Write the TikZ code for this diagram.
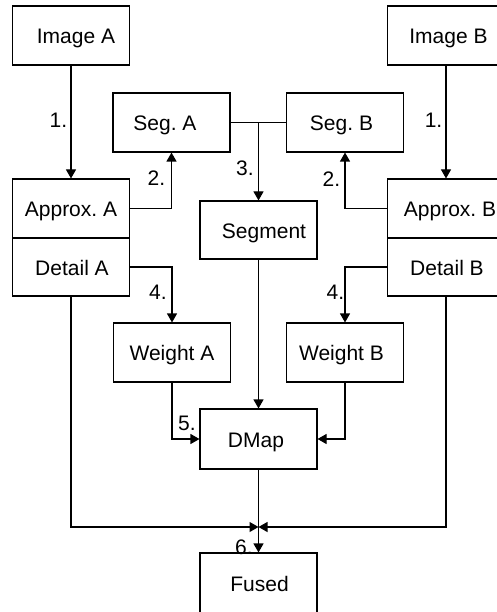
\documentclass[tikz,border=0pt]{standalone}
\usepackage{fontspec}
\setmainfont{Liberation Sans}
\usetikzlibrary{arrows.meta}
\frenchspacing
\newcommand{\txtshift}[2]{\makebox[0pt][c]{\hspace*{#1}#2}}
\begin{document}
\begin{tikzpicture}[x=1pt,y=-1pt,
  box/.style={draw, line width=1.1pt, inner sep=0pt, minimum width=117pt, minimum height=59pt,
    text height=16pt, text depth=0pt, font=\fontsize{21}{25}\selectfont},
  lbl/.style={inner sep=0pt, text height=15pt, text depth=0pt, font=\fontsize{21}{25}\selectfont},
  ln/.style={line width=1.1pt},
  arr/.style={line width=1.1pt, -{Triangle[length=9pt,width=10pt]}}]
\useasboundingbox (0,0) rectangle (496,612);
% boxes
\node[box] (imgA) at (71,35.5) {\txtshift{10pt}{Image A}};
\node[box] (imgB) at (446,35.5) {\txtshift{5pt}{Image B}};
\node[box] (segA) at (171.5,122.5) {\txtshift{-13pt}{Seg. A}};
\node[box] (segB) at (345,122.5) {\txtshift{-7pt}{Seg. B}};
\node[box] (apxA) at (71,208.5) {Approx. A};
\node[box, minimum height=58pt] (detA) at (71,267) {\txtshift{2pt}{Detail A}};
\node[box] (apxB) at (446,208.5) {\txtshift{8pt}{Approx. B}};
\node[box, minimum height=58pt] (detB) at (446,267) {\txtshift{2pt}{Detail B}};
\node[box, minimum height=58pt] (seg) at (258.5,230) {\txtshift{11pt}{Segment}};
\node[box] (wA) at (172,352.5) {Weight A};
\node[box] (wB) at (345,352.5) {\txtshift{-7pt}{Weight B}};
\node[box, minimum height=60pt] (dmap) at (258.5,439) {\txtshift{-5pt}{DMap}};
\node[box, minimum height=61pt] (fused) at (258.5,583.5) {\txtshift{2pt}{Fused}};
% labels
\node[lbl] (l1a) at (58.5,120.5) {1.};
\node[lbl] (l1b) at (433.5,120.5) {1.};
\node[lbl] (l2a) at (156.5,178.5) {2.};
\node[lbl] (l2b) at (331.5,179.5) {2.};
\node[lbl] (l3) at (245,168.5) {3.};
\node[lbl] (l4a) at (158,292) {4.};
\node[lbl] (l4b) at (335.5,292) {4.};
\node[lbl] (l5) at (187,422.5) {5.};
\node[lbl] (l6) at (244,546.5) {6.};
% connectors
\draw[arr] (imgA) -- (apxA);
\draw[arr] (imgB) -- (apxB);
\draw[arr] (apxA.east) -| (segA.south);
\draw[arr] (apxB.west) -| (segB.south);
\draw[ln] (segA.east) -- (segB.west);
\coordinate (js) at (seg.north |- segA.east);
\draw[arr] (js) -- (seg.north);
\draw[arr] (detA.east) -| (wA.north);
\draw[arr] (detB.west) -| (wB.north);
\draw[arr] (seg) -- (dmap);
\draw[arr] (wA.south) |- (dmap.west);
\draw[arr] (wB.south) |- (dmap.east);
\coordinate (jf) at (258.5,527);
\draw[arr] (detA.south) |- (jf);
\draw[arr] (detB.south) |- (jf);
\draw[arr] (dmap) -- (fused);
\end{tikzpicture}
\end{document}
